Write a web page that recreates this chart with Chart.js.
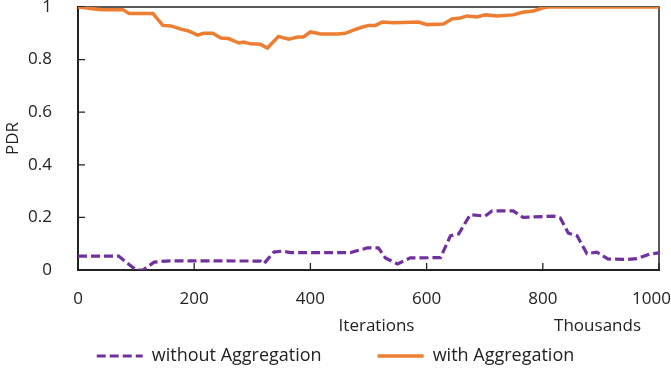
<!DOCTYPE html>
<html>
<head>
<meta charset="utf-8">
<script src="https://cdn.jsdelivr.net/npm/chart.js@4/dist/chart.umd.min.js"></script>
<style>
  html, body { margin: 0; padding: 0; background: #fff; }
</style>
</head>
<body>
<canvas id="myChart" width="671" height="370"></canvas>
<script>
// Данные (x -- тысячи итераций)
const withoutIter = [0, 70, 100, 112, 131, 151, 172, 314, 320, 337, 352, 366, 469, 498, 517, 529, 550, 572, 624, 641, 655, 675, 701, 713, 749, 766, 818, 830, 844, 859, 876, 893, 912, 945, 962, 984, 1000]
const withoutPdr = [0.053, 0.053, 0, 0, 0.03, 0.034, 0.035, 0.034, 0.024, 0.068, 0.072, 0.066, 0.066, 0.084, 0.084, 0.046, 0.023, 0.046, 0.047, 0.13, 0.137, 0.21, 0.205, 0.225, 0.225, 0.2, 0.205, 0.198, 0.14, 0.13, 0.062, 0.068, 0.042, 0.04, 0.043, 0.061, 0.065]

const withIter = [0, 40, 77, 88, 129, 146, 160, 177, 189, 206, 216, 232, 246, 259, 277, 285, 297, 314, 326, 345, 363, 378, 388, 400, 418, 447, 460, 474, 490, 500, 512, 524, 543, 586, 601, 629, 644, 658, 670, 687, 701, 722, 749, 765, 784, 799, 809, 1000]
const withPdr = [1.0, 0.99, 0.99, 0.975, 0.975, 0.93, 0.928, 0.916, 0.91, 0.893, 0.9, 0.9, 0.882, 0.88, 0.863, 0.867, 0.86, 0.858, 0.844, 0.888, 0.878, 0.886, 0.886, 0.905, 0.897, 0.897, 0.9, 0.912, 0.924, 0.93, 0.93, 0.943, 0.94, 0.943, 0.933, 0.935, 0.955, 0.958, 0.966, 0.962, 0.97, 0.966, 0.97, 0.98, 0.985, 0.996, 1.0, 1.0]

const seriesNames = ['without Aggregation', 'with Aggregation']
const xTitle = 'Iterations'
const xUnits = 'Thousands'
const yTitle = 'PDR'
const xMax = 1000

const axisColor = '#222'
const textColor = '#222'
const fontFamily = "'Open Sans', sans-serif"
const padBottom = -5

function toPoints(xs, ys) {
    return xs.map((v, i) => ({x: v, y: ys[i]}))
}

Chart.defaults.font.family = fontFamily
Chart.defaults.font.size = 17
Chart.defaults.color = textColor

// рамка сверху/справа, засечки внутрь и подписи под осью X
const frameAndTicks = {
    id: 'frameAndTicks',
    beforeDatasetsDraw(chart) {
        const {ctx, chartArea: a, scales: {x, y}} = chart
        ctx.save()
        ctx.strokeStyle = axisColor
        ctx.lineWidth = 1.5
        ctx.beginPath()
        ctx.moveTo(a.left, a.top)
        ctx.lineTo(a.right, a.top)
        ctx.lineTo(a.right, a.bottom)
        ctx.stroke()
        ctx.lineWidth = 1.3
        ctx.beginPath()
        x.ticks.forEach(t => {
            const px = x.getPixelForValue(t.value)
            ctx.moveTo(px, a.bottom)
            ctx.lineTo(px, a.bottom - 7)
        })
        y.ticks.forEach(t => {
            const py = y.getPixelForValue(t.value)
            ctx.moveTo(a.left, py)
            ctx.lineTo(a.left + 7, py)
        })
        ctx.stroke()
        ctx.restore()
    },
    afterDraw(chart) {
        const {ctx, chartArea: a, scales: {x}} = chart
        ctx.save()
        ctx.fillStyle = textColor
        ctx.font = "17px " + fontFamily
        ctx.textBaseline = 'middle'
        // подписи оси X; последняя ("1000") прижата к правому краю, как в оригинале
        x.ticks.forEach(t => {
            let px = x.getPixelForValue(t.value)
            let w = ctx.measureText(String(t.value)).width
            ctx.textAlign = 'center'
            if (px + w / 2 > chart.width) {
                ctx.textAlign = 'right'
                px = chart.width
            }
            ctx.fillText(String(t.value), px, a.bottom + 29.5)
        })
        ctx.textAlign = 'center'
        ctx.fillText(xTitle, (a.left + a.right) / 2 + 8, a.bottom + 56)
        ctx.textAlign = 'right'
        ctx.fillText(xUnits, a.right - 18, a.bottom + 56)
        ctx.restore()
    }
}

// легенда: линия с тем же пунктиром, что и у серии
function legendLabels(chart) {
    let items = Chart.defaults.plugins.legend.labels.generateLabels(chart)
    items.forEach(item => {
        let ds = chart.data.datasets[item.datasetIndex]
        item.lineDash = ds.borderDash || []
        item.lineWidth = ds.borderWidth
        item.strokeStyle = ds.borderColor
    })
    return items
}

let ctx = document.getElementById('myChart').getContext('2d')
let chart = new Chart(ctx, {
    type: 'line',
    data: {
        datasets: [{
            label: seriesNames[0],
            data: toPoints(withoutIter, withoutPdr),
            borderColor: '#7030A0',
            backgroundColor: '#7030A0',
            borderWidth: 3.2,
            borderDash: [9, 4],
            pointRadius: 0,
            tension: 0,
            fill: false
        }, {
            label: seriesNames[1],
            data: toPoints(withIter, withPdr),
            borderColor: '#ED7D31',
            backgroundColor: '#ED7D31',
            borderWidth: 3.5,
            pointRadius: 0,
            tension: 0,
            fill: false
        }]
    },
    options: {
        responsive: false,
        animation: false,
        devicePixelRatio: 1,
        layout: {
            padding: {top: 7, right: 0, left: 0, bottom: padBottom}
        },
        plugins: {
            tooltip: {enabled: false},
            legend: {
                position: 'bottom',
                labels: {
                    usePointStyle: true,
                    pointStyle: 'line',
                    pointStyleWidth: 46,
                    padding: 56,
                    color: textColor,
                    font: {size: 18},
                    generateLabels: legendLabels
                }
            }
        },
        scales: {
            x: {
                type: 'linear',
                min: 0,
                max: xMax,
                ticks: {
                    stepSize: 200,
                    display: false // подписи рисует frameAndTicks
                },
                grid: {drawOnChartArea: false, drawTicks: false},
                border: {color: axisColor, width: 2},
                afterFit(s) {
                    // чтобы низ области графика был на 270px, а правый край на 659px
                    s.height = s.chart.height - padBottom - s.chart.legend.height - 270
                    s.paddingLeft = 0
                    s.paddingRight = 12
                }
            },
            y: {
                min: 0,
                max: 1,
                ticks: {
                    stepSize: 0.2,
                    padding: 26,
                    callback: v => String(Math.round(v * 10) / 10)
                },
                grid: {drawOnChartArea: false, drawTicks: false},
                border: {color: axisColor, width: 2},
                title: {
                    display: true,
                    text: yTitle,
                    padding: {top: 3, bottom: 0},
                    font: {size: 17}
                },
                afterFit(s) {
                    s.width = 78
                    s.paddingTop = 0
                    s.paddingBottom = 0
                }
            }
        }
    },
    plugins: [frameAndTicks]
})
</script>
</body>
</html>
